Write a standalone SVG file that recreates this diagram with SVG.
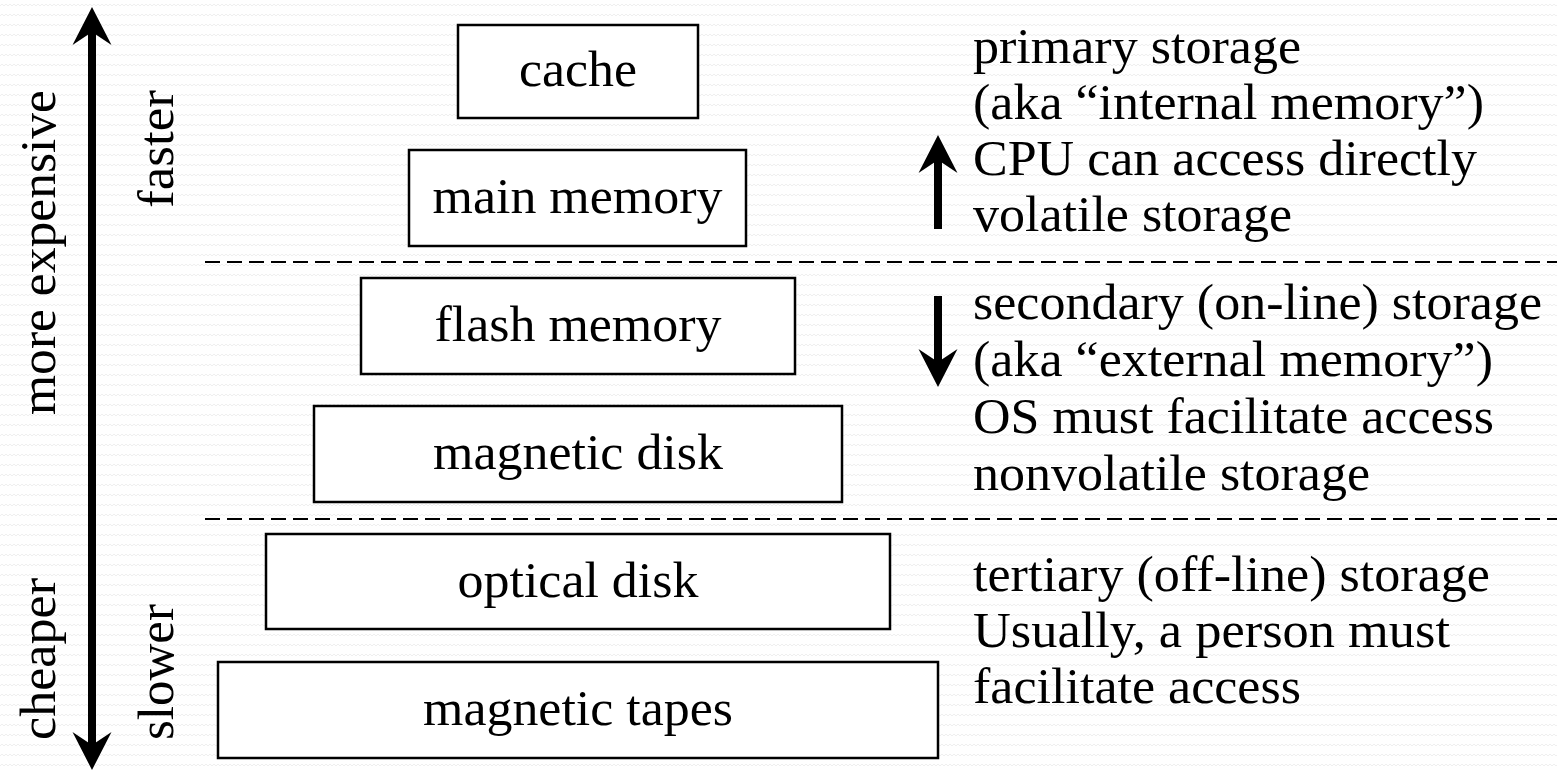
<svg xmlns="http://www.w3.org/2000/svg" width="1557" height="771" viewBox="0 0 1557 771">
<style>
.t{font-family:"Liberation Serif","Times New Roman",serif;font-size:50px;fill:#000;}
.box{fill:#fff;stroke:#000;stroke-width:2.5;}
.dash{stroke:#000;stroke-width:2;stroke-dasharray:15 7;fill:none;}
.shaft{stroke:#000;stroke-width:8;fill:none;}
</style>
<defs>
<pattern id="bg" width="8" height="10" patternUnits="userSpaceOnUse">
<path d="M0 6 L2 4 L4 6 L6 4 L8 6" fill="none" stroke="#efefef" stroke-width="1"/>
</pattern>
<marker id="ah" markerUnits="userSpaceOnUse" markerWidth="40" markerHeight="40" viewBox="0 -20 40 40" refX="13" refY="0" orient="auto-start-reverse">
<path d="M38 0 L0 -19.5 L13 0 L0 19.5 Z" fill="#000"/>
</marker>
</defs>
<rect width="1557" height="771" fill="#fff"/>
<rect width="1557" height="771" fill="url(#bg)"/>

<g id="connectors">
<line class="shaft" x1="92" y1="32" x2="92" y2="745" marker-start="url(#ah)" marker-end="url(#ah)"/>
<line class="shaft" x1="938" y1="229" x2="938" y2="160" marker-end="url(#ah)"/>
<line class="shaft" x1="938" y1="296" x2="938" y2="362" marker-end="url(#ah)"/>
<line class="dash" x1="205" y1="262" x2="1557" y2="262"/>
<line class="dash" x1="205" y1="519" x2="1557" y2="519"/>
</g>

<g id="axis-labels">
<text class="t" transform="translate(55,90) rotate(-90)" text-anchor="end" textLength="325" lengthAdjust="spacingAndGlyphs">more expensive</text>
<text class="t" transform="translate(173,90) rotate(-90)" text-anchor="end" textLength="118" lengthAdjust="spacingAndGlyphs">faster</text>
<text class="t" transform="translate(55,740) rotate(-90)" textLength="162" lengthAdjust="spacingAndGlyphs">cheaper</text>
<text class="t" transform="translate(173,740) rotate(-90)" textLength="136" lengthAdjust="spacingAndGlyphs">slower</text>
</g>

<g id="cache">
<rect class="box" x="458" y="25" width="240" height="93"/>
<text class="t" x="578" y="86" text-anchor="middle" textLength="118" lengthAdjust="spacingAndGlyphs">cache</text>
</g>
<g id="main-memory">
<rect class="box" x="409" y="150" width="337" height="96"/>
<text class="t" x="577.5" y="213" text-anchor="middle" textLength="290" lengthAdjust="spacingAndGlyphs">main memory</text>
</g>
<g id="flash-memory">
<rect class="box" x="361" y="278" width="434" height="96"/>
<text class="t" x="578" y="341" text-anchor="middle" textLength="287" lengthAdjust="spacingAndGlyphs">flash memory</text>
</g>
<g id="magnetic-disk">
<rect class="box" x="314" y="406" width="528" height="96"/>
<text class="t" x="578" y="469" text-anchor="middle" textLength="290" lengthAdjust="spacingAndGlyphs">magnetic disk</text>
</g>
<g id="optical-disk">
<rect class="box" x="266" y="534" width="624" height="95"/>
<text class="t" x="578" y="597" text-anchor="middle" textLength="241" lengthAdjust="spacingAndGlyphs">optical disk</text>
</g>
<g id="magnetic-tapes">
<rect class="box" x="218" y="662" width="720" height="96"/>
<text class="t" x="578" y="725" text-anchor="middle" textLength="310" lengthAdjust="spacingAndGlyphs">magnetic tapes</text>
</g>

<g id="primary-notes">
<text class="t" x="973" y="63" textLength="328" lengthAdjust="spacingAndGlyphs">primary storage</text>
<text class="t" x="973" y="119" textLength="511" lengthAdjust="spacingAndGlyphs">(aka “internal memory”)</text>
<text class="t" x="973" y="175" textLength="504" lengthAdjust="spacingAndGlyphs">CPU can access directly</text>
<text class="t" x="973" y="231" textLength="319" lengthAdjust="spacingAndGlyphs">volatile storage</text>
</g>
<g id="secondary-notes">
<text class="t" x="973" y="319" textLength="569" lengthAdjust="spacingAndGlyphs">secondary (on-line) storage</text>
<text class="t" x="973" y="376" textLength="520" lengthAdjust="spacingAndGlyphs">(aka “external memory”)</text>
<text class="t" x="973" y="433" textLength="521" lengthAdjust="spacingAndGlyphs">OS must facilitate access</text>
<text class="t" x="973" y="490" textLength="397" lengthAdjust="spacingAndGlyphs">nonvolatile storage</text>
</g>
<g id="tertiary-notes">
<text class="t" x="973" y="591" textLength="517" lengthAdjust="spacingAndGlyphs">tertiary (off-line) storage</text>
<text class="t" x="973" y="647" textLength="477" lengthAdjust="spacingAndGlyphs">Usually, a person must</text>
<text class="t" x="973" y="703" textLength="328" lengthAdjust="spacingAndGlyphs">facilitate access</text>
</g>
</svg>
